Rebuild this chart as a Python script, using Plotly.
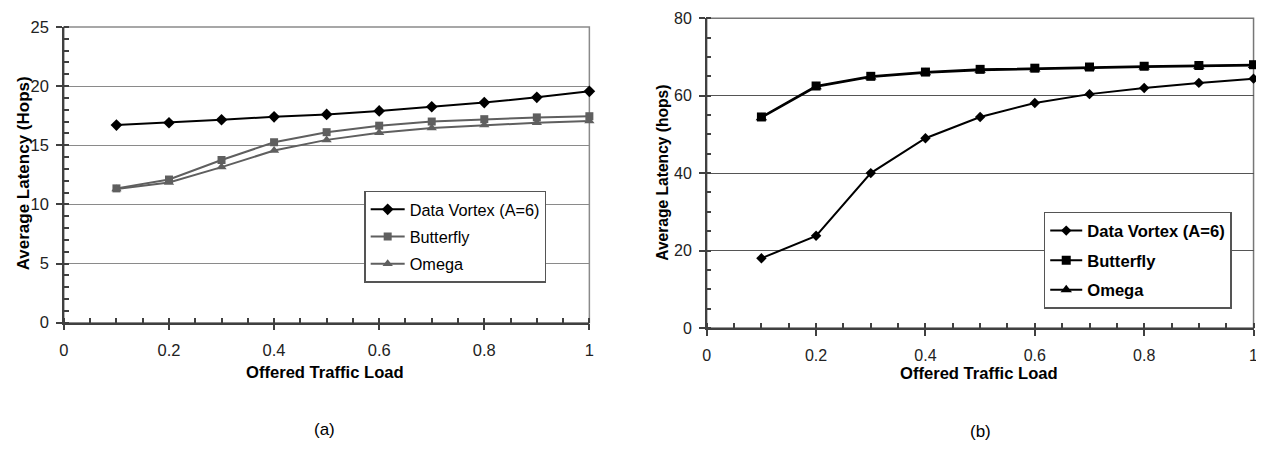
import plotly.graph_objects as go

# ---------------- data ----------------
load = [0.1, 0.2, 0.3, 0.4, 0.5, 0.6, 0.7, 0.8, 0.9, 1.0]

# panel (a)
a_vortex = [16.7, 16.9, 17.15, 17.4, 17.6, 17.9, 18.25, 18.6, 19.05, 19.55]
a_butterfly = [11.35, 12.1, 13.75, 15.25, 16.1, 16.65, 17.0, 17.2, 17.35, 17.45]
a_omega = [11.3, 11.85, 13.15, 14.55, 15.45, 16.05, 16.45, 16.7, 16.9, 17.05]

# panel (b)
b_vortex = [18.0, 23.8, 40.0, 49.0, 54.5, 58.1, 60.4, 62.0, 63.3, 64.4]
b_butterfly = [54.5, 62.5, 65.0, 66.1, 66.8, 67.1, 67.4, 67.6, 67.8, 68.0]
b_omega = [54.3, 62.3, 64.8, 65.9, 66.6, 66.9, 67.2, 67.4, 67.6, 67.8]

names = ["Data Vortex (A=6)", "Butterfly", "Omega"]
x_title = "Offered Traffic Load"
y_title_a = "Average Latency (Hops)"
y_title_b = "Average Latency (hops)"
panel_labels = ["(a)", "(b)"]

# page is 1264x455; the html body has an 8px default margin
OFF = 8
W, H = 1264 - OFF, 455 - OFF
FONT = "Liberation Sans, Arial, sans-serif"


def px_x(p):
    return (p - OFF) / W


def px_y(p):
    return 1 - (p - OFF) / H


fig = go.Figure()

gray = "#5f5f5f"
# ---- panel (a) traces ----
fig.add_trace(go.Scatter(x=load, y=a_vortex, name=names[0], mode="lines+markers",
                         line=dict(color="black", width=2),
                         marker=dict(symbol="diamond", size=9, color="black"),
                         cliponaxis=False,
                         xaxis="x", yaxis="y", legend="legend", legendgroup="a1", legendrank=1))
fig.add_trace(go.Scatter(x=load, y=a_butterfly, name=names[1], mode="lines+markers",
                         line=dict(color=gray, width=2),
                         marker=dict(symbol="square", size=8, color=gray),
                         cliponaxis=False,
                         xaxis="x", yaxis="y", legend="legend", legendgroup="a2", legendrank=2))
fig.add_trace(go.Scatter(x=load, y=a_omega, name=names[2], mode="lines+markers",
                         line=dict(color=gray, width=2),
                         marker=dict(symbol="triangle-up", size=9, color=gray),
                         cliponaxis=False,
                         xaxis="x", yaxis="y", legend="legend", legendgroup="a3", legendrank=3))

# ---- panel (b) traces ----
fig.add_trace(go.Scatter(x=load, y=b_omega, name=names[2], mode="lines+markers",
                         line=dict(color="black", width=2),
                         marker=dict(symbol="triangle-up", size=10, color="black"),
                         cliponaxis=False,
                         xaxis="x2", yaxis="y2", legend="legend2", legendgroup="b3", legendrank=3))
fig.add_trace(go.Scatter(x=load, y=b_vortex, name=names[0], mode="lines+markers",
                         line=dict(color="black", width=2),
                         marker=dict(symbol="diamond", size=8, color="black"),
                         cliponaxis=False,
                         xaxis="x2", yaxis="y2", legend="legend2", legendgroup="b1", legendrank=1))
fig.add_trace(go.Scatter(x=load, y=b_butterfly, name=names[1], mode="lines+markers",
                         line=dict(color="black", width=2),
                         marker=dict(symbol="square", size=9, color="black"),
                         cliponaxis=False,
                         xaxis="x2", yaxis="y2", legend="legend2", legendgroup="b2", legendrank=2))


def xaxis_cfg(domain, anchor, fsize):
    return dict(domain=domain, anchor=anchor, range=[0, 1], dtick=0.2, tick0=0,
                showgrid=False, zeroline=False, showline=True, linecolor="#404040", linewidth=1.5,
                ticks="outside", ticklen=6, tickcolor="#404040", tickwidth=1.5,
                minor=dict(dtick=0.05, ticks="inside", ticklen=5, tickcolor="#404040", showgrid=False),
                tickfont=dict(family=FONT, size=fsize, color="#222"),
                ticklabelstandoff=6, ticklabeloverflow="allow", fixedrange=True)


def yaxis_cfg(domain, anchor, rng, dtick, mdtick, gridcolor, fsize):
    return dict(domain=domain, anchor=anchor, range=rng, dtick=dtick, tick0=0,
                showgrid=True, gridcolor=gridcolor, gridwidth=1, zeroline=False,
                showline=True, linecolor="#404040", linewidth=1.5,
                ticks="outside", ticklen=6, tickcolor="#404040", tickwidth=1.5,
                minor=dict(dtick=mdtick, ticks="inside", ticklen=5, tickcolor="#404040", showgrid=False),
                tickfont=dict(family=FONT, size=fsize, color="#222"),
                ticklabelstandoff=4, fixedrange=True)


xa_dom = [px_x(59.3), px_x(589)]
ya_dom = [px_y(326.5), px_y(18.3)]
xb_dom = [px_x(707.3), px_x(1258.5)]
yb_dom = [px_y(332), px_y(9.3)]

legend_font_a = dict(family=FONT, size=16.3, color="black")
legend_font_b = dict(family=FONT, size=16.6, color="black", weight="bold")

fig.update_layout(
    width=W, height=H,
    margin=dict(l=0, r=0, t=0, b=0),
    paper_bgcolor="white", plot_bgcolor="white",
    font=dict(family=FONT, color="black"),
    xaxis=xaxis_cfg(xa_dom, "y", 16.5),
    yaxis=yaxis_cfg(ya_dom, "x", [0, 25], 5, 1, "#8a8a8a", 16.5),
    xaxis2=xaxis_cfg(xb_dom, "y2", 16),
    yaxis2=yaxis_cfg(yb_dom, "x2", [0, 80], 20, 5, "#555555", 16),
    legend=dict(x=px_x(362), y=px_y(189), xanchor="left", yanchor="top",
                bgcolor="white", bordercolor="#555", borderwidth=1.5,
                font=legend_font_a, traceorder="grouped", tracegroupgap=3,
                itemwidth=34),
    legend2=dict(x=px_x(1047), y=px_y(211), xanchor="left", yanchor="top",
                 bgcolor="white", bordercolor="#555", borderwidth=1.5,
                 font=legend_font_b, traceorder="grouped", tracegroupgap=5,
                 itemwidth=32),
    showlegend=True,
)

# plot-area borders (top/right edges)
for xr, yr, col in [("x domain", "y domain", "#8a8a8a"), ("x2 domain", "y2 domain", "#777777")]:
    fig.add_shape(type="rect", xref=xr, yref=yr, x0=0, x1=1, y0=0, y1=1,
                  line=dict(color=col, width=1.5), layer="below")

annos = [
    dict(text=y_title_a, x=px_x(19), y=px_y(171), textangle=-90,
         font=dict(family=FONT, size=17, color="black", weight="bold")),
    dict(text=y_title_b, x=px_x(663), y=px_y(170.5), textangle=-90,
         font=dict(family=FONT, size=15.6, color="black", weight="bold")),
    dict(text=x_title, x=px_x(322), y=px_y(378),
         font=dict(family=FONT, size=16.6, color="black", weight="bold")),
    dict(text=x_title, x=px_x(982), y=px_y(379),
         font=dict(family=FONT, size=16.6, color="black", weight="bold")),
    dict(text=panel_labels[0], x=px_x(322), y=px_y(438), font=dict(family=FONT, size=17, color="black")),
    dict(text=panel_labels[1], x=px_x(983), y=px_y(440), font=dict(family=FONT, size=17, color="black")),
]
for a in annos:
    fig.add_annotation(xref="paper", yref="paper", showarrow=False,
                       xanchor="center", yanchor="middle", **a)

fig.write_html("out.html")
